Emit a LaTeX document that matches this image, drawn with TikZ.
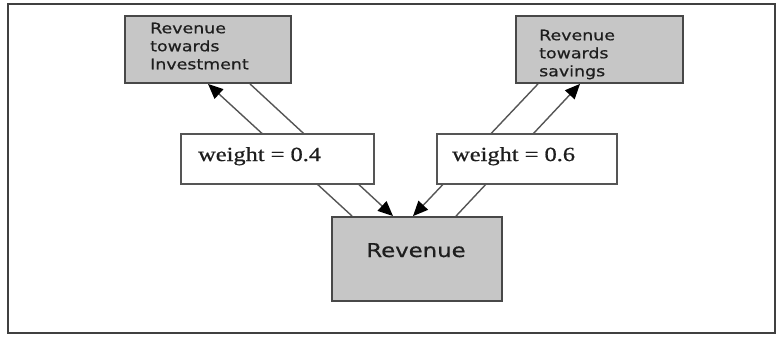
\documentclass[tikz,border=0pt]{standalone}
\usepackage{fontspec}
\usetikzlibrary{arrows.meta,calc}
\newfontfamily\labelsans[FakeStretch=1.2,FakeBold=0.6]{DejaVu Sans}
\newfontfamily\weightserif[FakeStretch=1.22,FakeBold=0.8]{Liberation Serif}
\definecolor{boxgray}{HTML}{C6C6C6}
\definecolor{rimgray}{HTML}{484848}
\definecolor{linegray}{HTML}{555555}
\definecolor{inkgray}{HTML}{1E1E1E}
\pgfdeclarelayer{edges}
\pgfsetlayers{edges,main}
\tikzset{
  graybox/.style={draw=rimgray, line width=1.8pt, fill=boxgray, inner sep=0pt},
  weightbox/.style={draw=linegray, line width=1.4pt, fill=white, inner sep=0pt,
    minimum height=50pt},
  boxtext/.style={inner sep=0pt, align=left, anchor=north west, text=inkgray,
    font=\labelsans\fontsize{14.5}{18}\selectfont},
  wtext/.style={inner sep=0pt, anchor=base west, text=inkgray,
    font=\weightserif\fontsize{20}{22}\selectfont},
  flow/.style={draw=linegray, line width=1.4pt},
  flowarrow/.style={flow, -{Triangle[length=15pt,width=13pt,color=black,fill=black]}},
}
\begin{document}
\begin{tikzpicture}[x=1pt,y=-1pt]
\useasboundingbox (0,0) rectangle (779,338);
% outer frame
\draw[draw=black!75, line width=2pt] (8,4) rectangle (775,333);

% boxes
\node[graybox, minimum width=166pt, minimum height=67pt] (inv) at (208,49.5) {};
\node[graybox, minimum width=167pt, minimum height=67pt] (sav) at (599.5,49.5) {};
\node[graybox, minimum width=170pt, minimum height=84pt] (rev) at (417,259) {};
\node[weightbox, minimum width=193pt] (w4) at (277.5,159) {};
\node[weightbox, minimum width=180pt] (w6) at (527,159) {};

% texts
\node[boxtext] (invtxt) at (150,22.5) {Revenue\\towards\\Investment};
\node[boxtext] (savtxt) at (539,29.5) {Revenue\\towards\\savings};
\node[inner sep=0pt, anchor=base, text=inkgray, font=\labelsans\fontsize{19}{22}\selectfont]
  (revtxt) at (416,257) {Revenue};
\node[wtext] (w4txt) at (198,161) {weight = 0.4};
\node[wtext] (w6txt) at (452,161) {weight = 0.6};

% connectors, drawn behind the weight labels
\begin{pgfonlayer}{edges}
\draw[flowarrow] ($(rev.north west)+(21,0)$) -- (inv.south);
\draw[flowarrow] ($(inv.south)+(42,0)$) -- ($(rev.north)+(-24,0)$);
\draw[flowarrow] ($(rev.north)+(39,0)$) -- ($(sav.south)+(-19.5,0)$);
\draw[flowarrow] ($(sav.south)+(-61.5,0)$) -- ($(rev.north)+(-4,0)$);
\end{pgfonlayer}
\end{tikzpicture}
\end{document}
